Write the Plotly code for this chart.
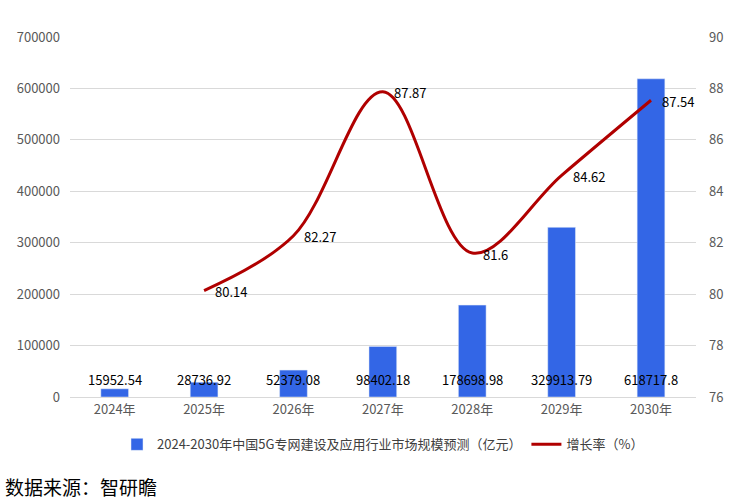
import plotly.graph_objects as go

years = ["2024年", "2025年", "2026年", "2027年", "2028年", "2029年", "2030年"]
market = [15952.54, 28736.92, 52379.08, 98402.18, 178698.98, 329913.79, 618717.8]
market_labels = ["15952.54", "28736.92", "52379.08", "98402.18", "178698.98", "329913.79", "618717.8"]
growth_years = ["2025年", "2026年", "2027年", "2028年", "2029年", "2030年"]
growth = [80.14, 82.27, 87.87, 81.6, 84.62, 87.54]
growth_labels = ["80.14", "82.27", "87.87", "81.6", "84.62", "87.54"]

font = "Noto Sans CJK SC, Microsoft YaHei, sans-serif"

fig = go.Figure()
fig.add_trace(go.Bar(
    x=years, y=market, name="2024-2030年中国5G专网建设及应用行业市场规模预测（亿元）",
    marker_color="#3366E6", yaxis="y",
))
fig.add_trace(go.Scatter(
    x=growth_years, y=growth, name="增长率（%）", yaxis="y2",
    mode="lines", line=dict(color="#B00000", width=3, shape="spline", smoothing=1.0),
))

for yr, lab in zip(growth_years, growth_labels):
    fig.add_annotation(x=yr, y=float(lab), yref="y2", text=lab, showarrow=False,
                       xanchor="left", xshift=9, yshift=-1,
                       font=dict(size=13, color="#000000", family=font))

for yr, lab in zip(years, market_labels):
    fig.add_annotation(x=yr, y=0, yref="y", text=lab, showarrow=False,
                       yanchor="bottom", yshift=6,
                       font=dict(size=13, color="#000000", family=font))

fig.add_annotation(x=0, y=0, xref="paper", yref="paper", xanchor="left", yanchor="bottom",
                   text="数据来源：智研瞻", showarrow=False, xshift=-67, yshift=-105,
                   font=dict(size=19, color="#000000", family=font))

fig.update_layout(
    width=729, height=500,
    margin=dict(l=70, r=33, t=37, b=103),
    paper_bgcolor="white", plot_bgcolor="white",
    bargap=0.69,
    font=dict(family=font, size=13, color="#595959"),
    xaxis=dict(showgrid=False, showline=True, linecolor="#D9D9D9", ticks="",
               tickfont=dict(size=13, color="#595959")),
    yaxis=dict(range=[0, 700000], dtick=100000, showgrid=True, gridcolor="#D9D9D9",
               tickformat="d", ticklabelstandoff=9, automargin=False,
               zeroline=False, tickfont=dict(size=13, color="#595959")),
    yaxis2=dict(range=[76, 90], dtick=2, overlaying="y", side="right", showgrid=False,
                ticklabelstandoff=12, automargin=False,
                zeroline=False, tickfont=dict(size=13, color="#595959")),
    legend=dict(orientation="h", x=0.5, xanchor="center", y=-0.09, yanchor="top",
                font=dict(size=13, color="#404040"), traceorder="normal", itemwidth=30),
    showlegend=True,
)

fig.write_html("out.html")
